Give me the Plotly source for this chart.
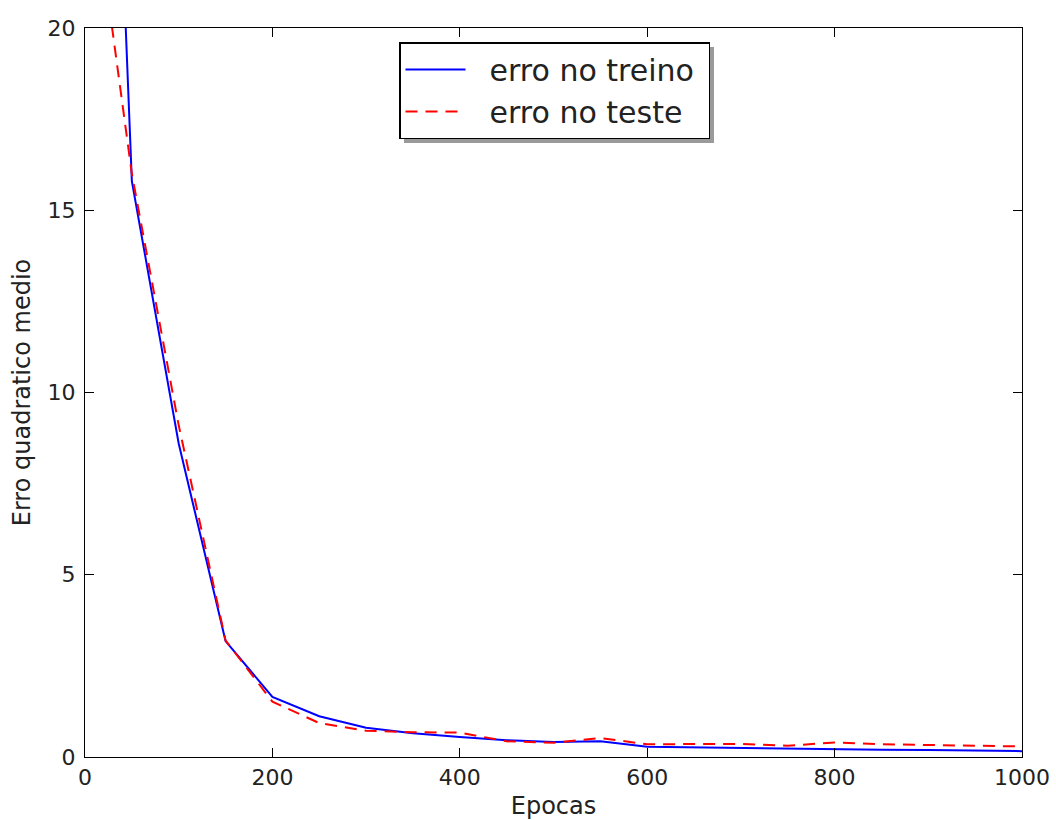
import plotly.graph_objects as go

epocas = [0, 50, 100, 150, 200, 250, 300, 350, 400, 450, 500,
          550, 600, 650, 700, 750, 800, 850, 900, 950, 1000]
erro_treino = [48.0, 15.8, 8.6, 3.18, 1.65, 1.12, 0.80, 0.65, 0.55, 0.46, 0.41,
               0.43, 0.28, 0.26, 0.24, 0.22, 0.22, 0.20, 0.19, 0.17, 0.16]
erro_teste = [25.5, 16.0, 9.1, 3.2, 1.52, 0.93, 0.72, 0.68, 0.67, 0.43, 0.39,
              0.52, 0.35, 0.36, 0.36, 0.31, 0.40, 0.35, 0.32, 0.31, 0.29]
nomes = ["erro no treino", "erro no teste"]

x_ticks = [0, 200, 400, 600, 800, 1000]
y_ticks = [0, 5, 10, 15, 20]

FONT = "DejaVu Sans"
L, R, T, B = 85, 34, 28, 63
W, H = 1056, 820
PW, PH = W - L - R, H - T - B

NB = "\u00a0"

fig = go.Figure()
fig.add_trace(go.Scatter(x=epocas, y=erro_treino, mode="lines", name=NB * 2 + nomes[0] + NB,
                         line=dict(color="#0000ff", width=2)))
fig.add_trace(go.Scatter(x=epocas, y=erro_teste, mode="lines", name=NB * 2 + nomes[1] + NB,
                         line=dict(color="#ff0000", width=2, dash="12px,8px")))

def px2paper(px, py):
    return (px - L) / PW, (H - B - py) / PH

# legend shadow
sx0, sy0 = px2paper(404, 143)
sx1, sy1 = px2paper(714, 47)
fig.add_shape(type="rect", xref="paper", yref="paper", x0=sx0, y0=sy0, x1=sx1, y1=sy1,
              fillcolor="#9a9a9a", line=dict(width=0), layer="above")

lx, ly = px2paper(399, 42)

axis_common = dict(showgrid=False, zeroline=False, showline=True, linecolor="black",
                   linewidth=1.3, mirror="ticks", ticks="inside", ticklen=9,
                   tickcolor="black", tickwidth=1.2, automargin=False,
                   tickfont=dict(family=FONT, size=22, color="#222"))

fig.update_layout(
    width=W, height=H,
    margin=dict(l=L, r=R, t=T, b=B),
    paper_bgcolor="white", plot_bgcolor="white",
    font=dict(family=FONT, color="#222"),
    xaxis=dict(range=[0, 1000], tickvals=x_ticks, ticktext=[str(v) for v in x_ticks],
               title=dict(text="Epocas", font=dict(family=FONT, size=24), standoff=9),
               **axis_common),
    yaxis=dict(range=[0, 20], tickvals=y_ticks, ticktext=[str(v) for v in y_ticks],
               ticklabelstandoff=4,
               title=dict(text="Erro quadratico medio", font=dict(family=FONT, size=24), standoff=10),
               **axis_common),
    legend=dict(x=lx, y=ly, xanchor="left", yanchor="top",
                bgcolor="white", bordercolor="black", borderwidth=1.5,
                font=dict(family=FONT, size=30, color="#222"),
                itemwidth=60, tracegroupgap=0),
    showlegend=True,
)

fig.write_html("out.html")
